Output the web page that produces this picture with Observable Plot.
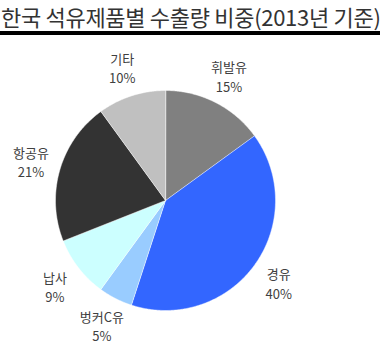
<!DOCTYPE html>
<html>
<head>
<meta charset="utf-8">
<script src="https://cdn.jsdelivr.net/npm/d3@7"></script>
<script src="https://cdn.jsdelivr.net/npm/@observablehq/plot@0.6"></script>
<style>
  html, body { margin: 0; padding: 0; background: #fff; }
  #wrap { width: 380px; height: 354px; overflow: hidden; font-family: "Noto Sans CJK KR", sans-serif; }
  #title { height: 31px; line-height: 32px; font-size: 22px; color: #333; white-space: nowrap; letter-spacing: -0.3px; padding-left: 1px; font-weight: 400; }
  #bar { height: 4px; background: #000; }
</style>
</head>
<body>
<div id="wrap">
  <div id="title">한국 석유제품별 수출량 비중(2013년 기준)</div>
  <div id="bar"></div>
  <div id="chart"></div>
</div>
<script>
const categories = ["휘발유", "경유", "벙커C유", "납사", "항공유", "기타"];
const shares = [15, 40, 5, 9, 21, 10];
const colors = ["#808080", "#3366ff", "#99ccff", "#ccffff", "#333333", "#c0c0c0"];

const W = 380, H = 319;
const cx = 165, cy = 165, R = 110, labelR = 140;

const data = categories.map((c, i) => ({category: c, share: shares[i], color: colors[i]}));
const arcs = d3.pie().sort(null).value(d => d.share)(data);

function slicePoints(a) {
  const pts = [{x: 0, y: 0}];
  const n = Math.max(2, Math.ceil((a.endAngle - a.startAngle) / 0.01));
  for (let k = 0; k <= n; k++) {
    const t = a.startAngle + (a.endAngle - a.startAngle) * k / n;
    pts.push({x: R * Math.sin(t), y: -R * Math.cos(t)});
  }
  return pts;
}

const labels = arcs.map(a => {
  const m = (a.startAngle + a.endAngle) / 2;
  return {x: labelR * Math.sin(m), y: -labelR * Math.cos(m), text: `${a.data.category}\n${a.data.share}%`};
});

const chart = Plot.plot({
  width: W,
  height: H,
  margin: 0,
  x: {type: "linear", domain: [-cx, W - cx], range: [0, W], axis: null},
  y: {type: "linear", domain: [-cy, H - cy], range: [0, H], axis: null},
  style: {fontFamily: "'Noto Sans CJK KR', sans-serif", background: "#fff"},
  marks: [
    ...arcs.map(a => Plot.line(slicePoints(a), {
      x: "x", y: "y", curve: "linear-closed",
      fill: a.data.color, stroke: "#fff", strokeWidth: 0.6, strokeOpacity: 0.8
    })),
    Plot.text(labels, {
      x: "x", y: "y", text: "text",
      fontSize: 13, lineHeight: 1.5, fill: "#404040", textAnchor: "middle"
    })
  ]
});
document.getElementById("chart").appendChild(chart);
</script>
</body>
</html>
